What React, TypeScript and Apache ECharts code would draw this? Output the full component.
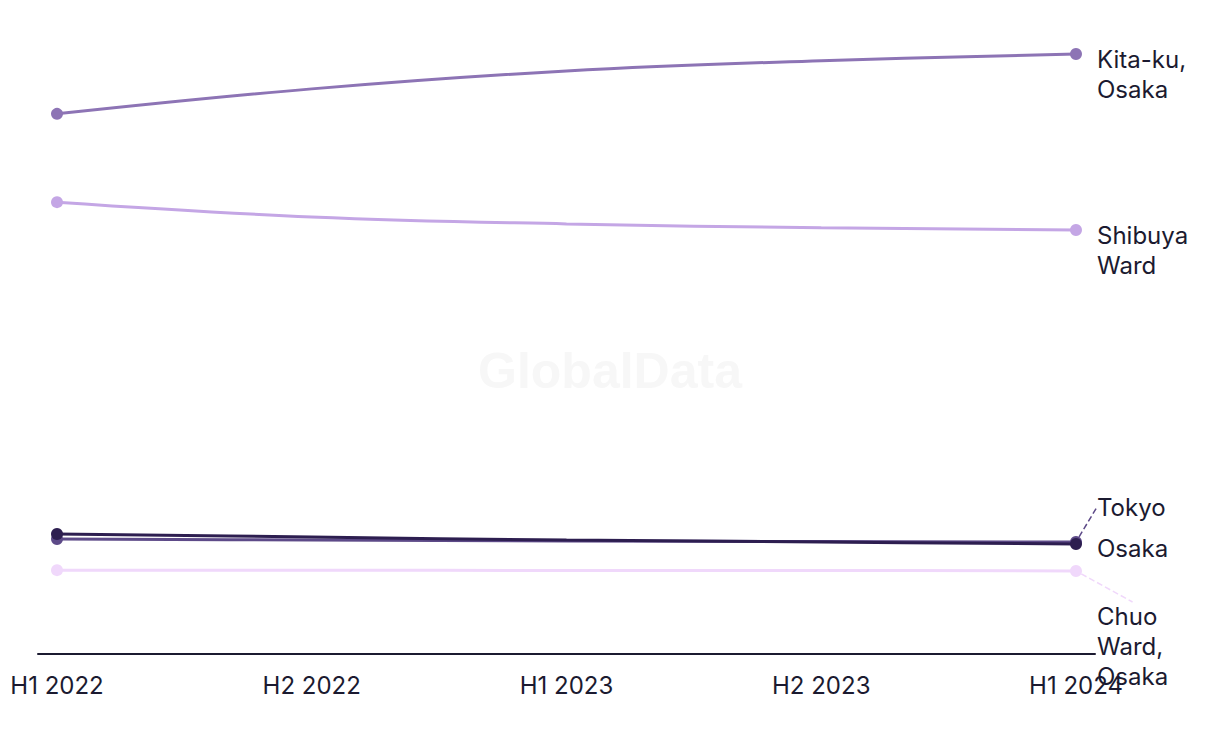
import React, { useEffect, useRef } from "react";
import * as echarts from "echarts";

const categories = ["H1 2022", "H2 2022", "H1 2023", "H2 2023", "H1 2024"];
const seriesNames = ["Kita-ku,\nOsaka", "Shibuya\nWard", "Tokyo", "Osaka", "Chuo\nWard,\nOsaka"];
const kitaKu = [84.4, 88.3, 91.1, 92.7, 93.75];
const shibuya = [70.6, 68.3, 67.2, 66.6, 66.25];
const tokyo = [17.97, 17.8, 17.66, 17.58, 17.5];
const osaka = [18.75, 18.28, 17.8, 17.5, 17.19];
const chuo = [13.1, 13.1, 13.05, 13.05, 12.97];

const colors = ["#8d74b5", "#c4a6e5", "#5d4a88", "#2d1e50", "#f0d8fb"];
const labelDy = [0, 0, -50, 0, 31];

export default function App() {
  const ref = useRef<HTMLDivElement>(null);
  useEffect(() => {
    if (!ref.current) return;
    const chart = echarts.init(ref.current, null, { renderer: "svg" });
    const all = [kitaKu, shibuya, tokyo, osaka, chuo];
    const font = "Inter, 'Noto Sans', sans-serif";
    const series = all.map((vals, si) => ({
      type: "line",
      name: seriesNames[si],
      smooth: 0.4,
      showSymbol: true,
      symbol: "circle",
      symbolSize: (_v: any, p: any) => (p.dataIndex === 0 || p.dataIndex === vals.length - 1 ? 12 : 0),
      lineStyle: { width: 3, color: colors[si] },
      itemStyle: { color: colors[si] },
      z: 2 + si,
      labelLine: {
        show: labelDy[si] !== 0,
        lineStyle: { color: colors[si], type: "dashed", width: 1.5 },
      },
      labelLayout: labelDy[si] !== 0 ? { dy: labelDy[si] } : undefined,
      data: vals.map((v, i) => ({
        value: [i, v],
        label:
          i === vals.length - 1
            ? {
                show: true,
                position: "right",
                distance: 15,
                verticalAlign: "top",
                offset: [0, -10],
                formatter: seriesNames[si],
                fontSize: 24,
                lineHeight: 30,
                fontFamily: font,
                color: "#1b1a30",
              }
            : { show: false },
      })),
    }));
    chart.setOption({
      animation: false,
      backgroundColor: "#ffffff",
      graphic: [
        {
          type: "text",
          left: "center",
          top: 346,
          z: 0,
          style: {
            text: "GlobalData",
            fontSize: 50,
            fontWeight: "bold",
            fontFamily: "'Liberation Sans', Arial, sans-serif",
            fill: "#f7f7f7",
          },
        },
      ],
      grid: { left: 38, right: 125, top: 14, bottom: 90 },
      xAxis: {
        type: "value",
        min: -0.0746,
        max: 4.0746,
        axisLine: { show: true, lineStyle: { color: "#1b1a30", width: 2 } },
        axisTick: { show: false },
        splitLine: { show: false },
        axisLabel: {
          customValues: [0, 1, 2, 3, 4],
          formatter: (v: number) => categories[Math.round(v)] ?? "",
          fontSize: 24,
          fontFamily: font,
          color: "#1b1a30",
          margin: 19,
        },
      },
      yAxis: {
        type: "value",
        min: 0,
        max: 100,
        show: false,
        splitLine: { show: false },
      },
      series,
    });
    return () => chart.dispose();
  }, []);
  return (
    <div
      ref={ref}
      style={{ position: "fixed", left: 0, top: 0, width: 1220, height: 744 }}
    />
  );
}
